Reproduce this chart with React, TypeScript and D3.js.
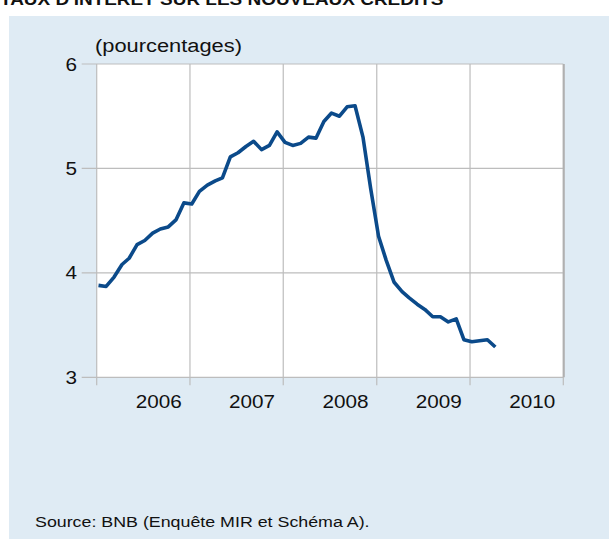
import React from 'react';
import * as d3 from 'd3';

// taux mensuels, nov. 2005 - févr. 2010 (pourcentages)
const rates = [
  3.88, 3.87, 3.96, 4.08, 4.14, 4.27, 4.31, 4.38, 4.42, 4.44,
  4.51, 4.67, 4.66, 4.78, 4.84, 4.88, 4.91, 5.11, 5.15, 5.21,
  5.26, 5.18, 5.22, 5.35, 5.25, 5.22, 5.24, 5.30, 5.29, 5.45,
  5.53, 5.50, 5.59, 5.60, 5.30, 4.81, 4.35, 4.12, 3.91, 3.82,
  3.76, 3.70, 3.65, 3.58, 3.58, 3.53, 3.56, 3.36, 3.34, 3.35,
  3.36, 3.29,
];
const months = d3.timeMonth.range(new Date(2005, 10, 1), new Date(2010, 2, 1));
const yearLabels = [2006, 2007, 2008, 2009, 2010];
const gridYears = [2005, 2006, 2007, 2008, 2009, 2010];
const yTicks = [3, 4, 5, 6];

const title = "TAUX D'INTERET SUR LES NOUVEAUX CREDITS";
const unitLabel = '(pourcentages)';
const sourceText = 'Source: BNB (Enquête MIR et Schéma A).';

const W = 609;
const H = 539;
const SX = 1.15; // the picture is a little wider than tall
const font = '"Liberation Sans", Arial, sans-serif';

const Txt = ({ x, y, size, anchor = 'start', weight = 'normal', children }: any) => (
  <text
    transform={`translate(${x},${y}) scale(${SX},1)`}
    fontSize={size}
    fontFamily={font}
    fontWeight={weight}
    textAnchor={anchor}
    fill="#111"
  >
    {children}
  </text>
);

const App = () => {
  const left = 96.7, right = 563.3, top = 64, bottom = 377.3;

  const x = d3.scaleTime()
    .domain([new Date(2005, 9, 25), new Date(2010, 9, 25)])
    .range([left, right]);
  const y = d3.scaleLinear().domain([3, 6]).range([bottom, top]);

  const line = d3.line<number>()
    .x((d, i) => x(months[i]))
    .y(d => y(d));

  const grid = '#bdbdbd';

  return (
    <svg width={W} height={H} style={{ position: 'absolute', left: 0, top: 0, background: '#fff' }}>
      <Txt x={0} y={4.5} size={16.5} weight="bold">{title}</Txt>
      <rect x={9} y={16} width={W - 9} height={H - 16} fill="#dfebf4" />

      <rect x={left} y={top} width={right - left} height={bottom - top} fill="#fff" />

      {/* horizontal grid + left ticks */}
      {yTicks.map(t => (
        <g key={t}>
          <line x1={left - 15} x2={right} y1={y(t)} y2={y(t)} stroke={grid} strokeWidth={1.2} />
          <Txt x={77} y={y(t) + 6.5} size={18} anchor="end">{t}</Txt>
        </g>
      ))}

      {/* vertical grid + bottom ticks */}
      {gridYears.map(yr => (
        <line key={yr} x1={x(new Date(yr, 9, 25))} x2={x(new Date(yr, 9, 25))}
          y1={top} y2={bottom + 8} stroke={grid} strokeWidth={1.2} />
      ))}
      <line x1={right + 0.5} x2={right + 0.5} y1={top} y2={bottom} stroke="#b0b0b0" strokeWidth={2} />

      {yearLabels.map(yr => (
        <Txt key={yr} x={x(new Date(yr, 5, 25))} y={408} size={18} anchor="middle">{yr}</Txt>
      ))}

      <path d={line(rates) as string} fill="none" stroke="#0b4a8a" strokeWidth={3.6}
        strokeLinejoin="round" />

      <Txt x={95} y={52} size={19}>{unitLabel}</Txt>
      <Txt x={35} y={527} size={15.5}>{sourceText}</Txt>
    </svg>
  );
};

export default App;
